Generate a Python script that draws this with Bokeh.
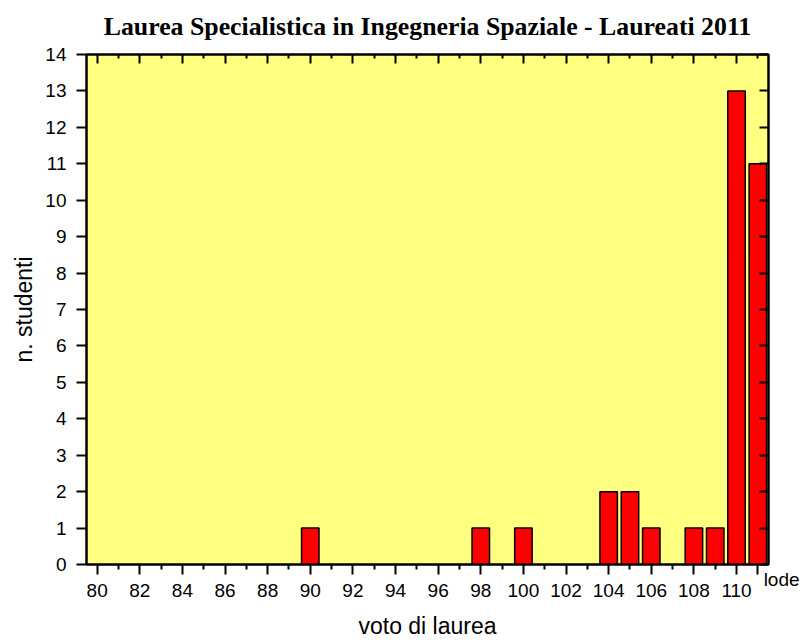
from bokeh.plotting import figure
from bokeh.models import (ColumnDataSource, FixedTicker, LinearAxis, Range1d)
from bokeh.embed import file_html
from bokeh.resources import INLINE

# ---- data ----
voti = [90, 98, 100, 104, 105, 106, 108, 109, 110, 111]
studenti = [1, 1, 1, 2, 2, 1, 1, 1, 13, 11]
x_major = [80, 82, 84, 86, 88, 90, 92, 94, 96, 98, 100, 102, 104, 106, 108, 110, 111]
x_labels = ["80", "82", "84", "86", "88", "90", "92", "94", "96", "98", "100",
            "102", "104", "106", "108", "110", "lode"]
x_minor = [81, 83, 85, 87, 89, 91, 93, 95, 97, 99, 101, 103, 105, 107, 109]
top_minor = x_minor + [111]
y_ticks = list(range(0, 15))

title = "Laurea Specialistica in Ingegneria Spaziale - Laureati 2011"
xlabel = "voto di laurea"
ylabel = "n. studenti"

src = ColumnDataSource(dict(x=voti, y=studenti))

p = figure(width=807, height=643,
           x_range=Range1d(79.5, 111.5), y_range=Range1d(0, 14),
           output_backend="svg", toolbar_location=None,
           min_border_left=86, min_border_right=39,
           min_border_top=54, min_border_bottom=79,
           background_fill_color="#FFFF80", border_fill_color="white")

p.vbar(x="x", top="y", bottom=0, width=0.82, source=src,
       fill_color="#FF0000", line_color="black", line_width=1.5)

p.xgrid.visible = False
p.ygrid.visible = False
p.outline_line_color = "black"
p.outline_line_width = 2

# main bottom axis: numeric labels only ("lode" is drawn by a second axis)
num_overrides = {v: (l if l != "lode" else "") for v, l in zip(x_major, x_labels)}

xa = p.xaxis[0]
xa.ticker = FixedTicker(ticks=x_major, minor_ticks=x_minor)
xa.major_label_overrides = num_overrides
xa.major_label_text_font = "Liberation Sans"
xa.major_label_text_font_size = "19px"
xa.major_label_text_color = "black"
xa.major_label_standoff = 9
xa.major_tick_out = 10
xa.major_tick_in = 0
xa.minor_tick_out = 5
xa.minor_tick_in = 0
xa.axis_line_width = 2
xa.major_tick_line_width = 2
xa.minor_tick_line_width = 2

# second bottom axis: the "lode" label (shifted right and raised) + axis title
pad = "\u00a0" * 9
lode_axis = LinearAxis(ticker=FixedTicker(ticks=[x_major[-1]], minor_ticks=[]),
                       major_label_overrides={x_major[-1]: pad + x_labels[-1]},
                       major_label_text_font="Liberation Sans",
                       major_label_text_font_size="19px",
                       major_label_text_color="black",
                       major_label_standoff=-31,
                       major_tick_out=0, major_tick_in=0, minor_tick_out=0, minor_tick_in=0,
                       major_tick_line_color=None, minor_tick_line_color=None,
                       axis_line_color=None,
                       axis_label=xlabel, axis_label_text_font="Liberation Sans",
                       axis_label_text_font_size="23px", axis_label_text_font_style="normal",
                       axis_label_text_color="black", axis_label_standoff=20)
p.add_layout(lode_axis, "below")

ya = p.yaxis[0]
ya.ticker = FixedTicker(ticks=y_ticks, minor_ticks=[])
ya.axis_label = ylabel
ya.axis_label_text_font = "Liberation Sans"
ya.axis_label_text_font_size = "23px"
ya.axis_label_text_font_style = "normal"
ya.axis_label_text_color = "black"
ya.axis_label_standoff = 5
ya.major_label_text_font = "Liberation Sans"
ya.major_label_text_font_size = "19px"
ya.major_label_text_color = "black"
ya.major_label_standoff = 10
ya.major_tick_out = 10
ya.major_tick_in = 0
ya.axis_line_width = 2
ya.major_tick_line_width = 2

blank_top = {v: "" for v in x_major}
blank_right = {v: "" for v in y_ticks}

# top axis: inward ticks, no numbers; carries the chart title as its label
top = LinearAxis(ticker=FixedTicker(ticks=x_major[:-1], minor_ticks=top_minor),
                 major_label_overrides=blank_top, major_label_text_color=None,
                 major_label_text_font_size="1px", major_label_standoff=0,
                 major_tick_in=9, major_tick_out=0, minor_tick_in=4, minor_tick_out=0,
                 axis_line_width=2, major_tick_line_width=2, minor_tick_line_width=2,
                 axis_label=title, axis_label_text_font="Liberation Serif",
                 axis_label_text_font_size="25.8px", axis_label_text_font_style="bold",
                 axis_label_text_color="black", axis_label_standoff=14)
p.add_layout(top, "above")

right = LinearAxis(ticker=FixedTicker(ticks=y_ticks, minor_ticks=[]),
                   major_label_overrides=blank_right, major_label_text_color=None,
                   major_label_text_font_size="1px", major_label_standoff=0,
                   major_tick_in=9, major_tick_out=0, minor_tick_in=0, minor_tick_out=0,
                   axis_line_width=2, major_tick_line_width=2)
p.add_layout(right, "right")

open("out.html", "w").write(file_html(p, INLINE))
